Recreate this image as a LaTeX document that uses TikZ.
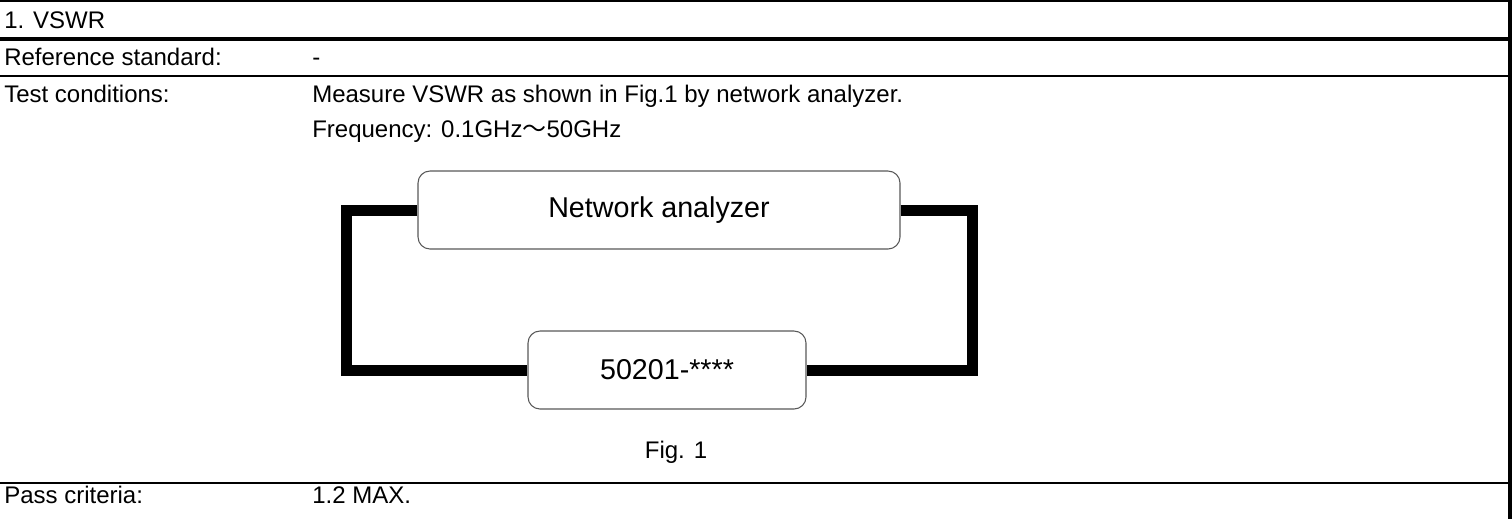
\documentclass[tikz,border=0pt]{standalone}
\usepackage{fontspec}
\setmainfont{Liberation Sans}
\newfontfamily\cjk{Noto Sans CJK SC}
\begin{document}
\begin{tikzpicture}[x=0.75pt,y=-0.75pt,
  rule/.style={draw=black,line width=1.9pt},
  thickrule/.style={draw=black,line width=3pt},
  txt/.style={anchor=base west,inner sep=0pt,font=\fontsize{18pt}{21pt}\selectfont},
  unit/.style={draw=black!65,line width=0.8pt,rounded corners=9pt,fill=white,
    font=\fontsize{21.5pt}{25pt}\selectfont,inner sep=0pt},
  wire/.style={draw=black,line width=8.25pt}]
\useasboundingbox (0,0) rectangle (1512,519);
% table rules
\draw[rule] (0,1) -- (1512,1);
\draw[thickrule] (0,39) -- (1510,39);
\draw[rule] (0,76) -- (1510,76);
\draw[rule] (0,483) -- (1510,483);
\draw[thickrule] (1510,0) -- (1510,519);
% texts
\node[txt] (title) at (4,28) {1. VSWR};
\node[txt] (refl) at (4,65) {Reference standard:};
\node[txt] (refv) at (312,65) {-};
\node[txt] (testl) at (4,102) {Test conditions:};
\node[txt] (testv1) at (312,102) {Measure VSWR as shown in Fig.1 by network analyzer.};
\node[txt] (testv2) at (312,137) {Frequency: 0.1GHz{\cjk ～}50GHz};
\node[txt] (passl) at (4,503) {Pass criteria:};
\node[txt] (passv) at (312,503) {1.2 MAX.};
% figure
\node[unit,minimum width=361.5pt,minimum height=58.5pt] (na) at (659,210) {Network analyzer};
\node[unit,minimum width=208.5pt,minimum height=58.5pt] (dut) at (667,370) {50201-****};
\draw[wire] (na.west) -- ++(-71,0) coordinate (lc) |- (dut.west);
\draw[wire] (na.east) -- ++(72,0) coordinate (rc) |- (dut.east);
\node[anchor=base,inner sep=0pt,font=\fontsize{18pt}{21pt}\selectfont] (fig) at (676,458) {Fig. 1};
\end{tikzpicture}
\end{document}
